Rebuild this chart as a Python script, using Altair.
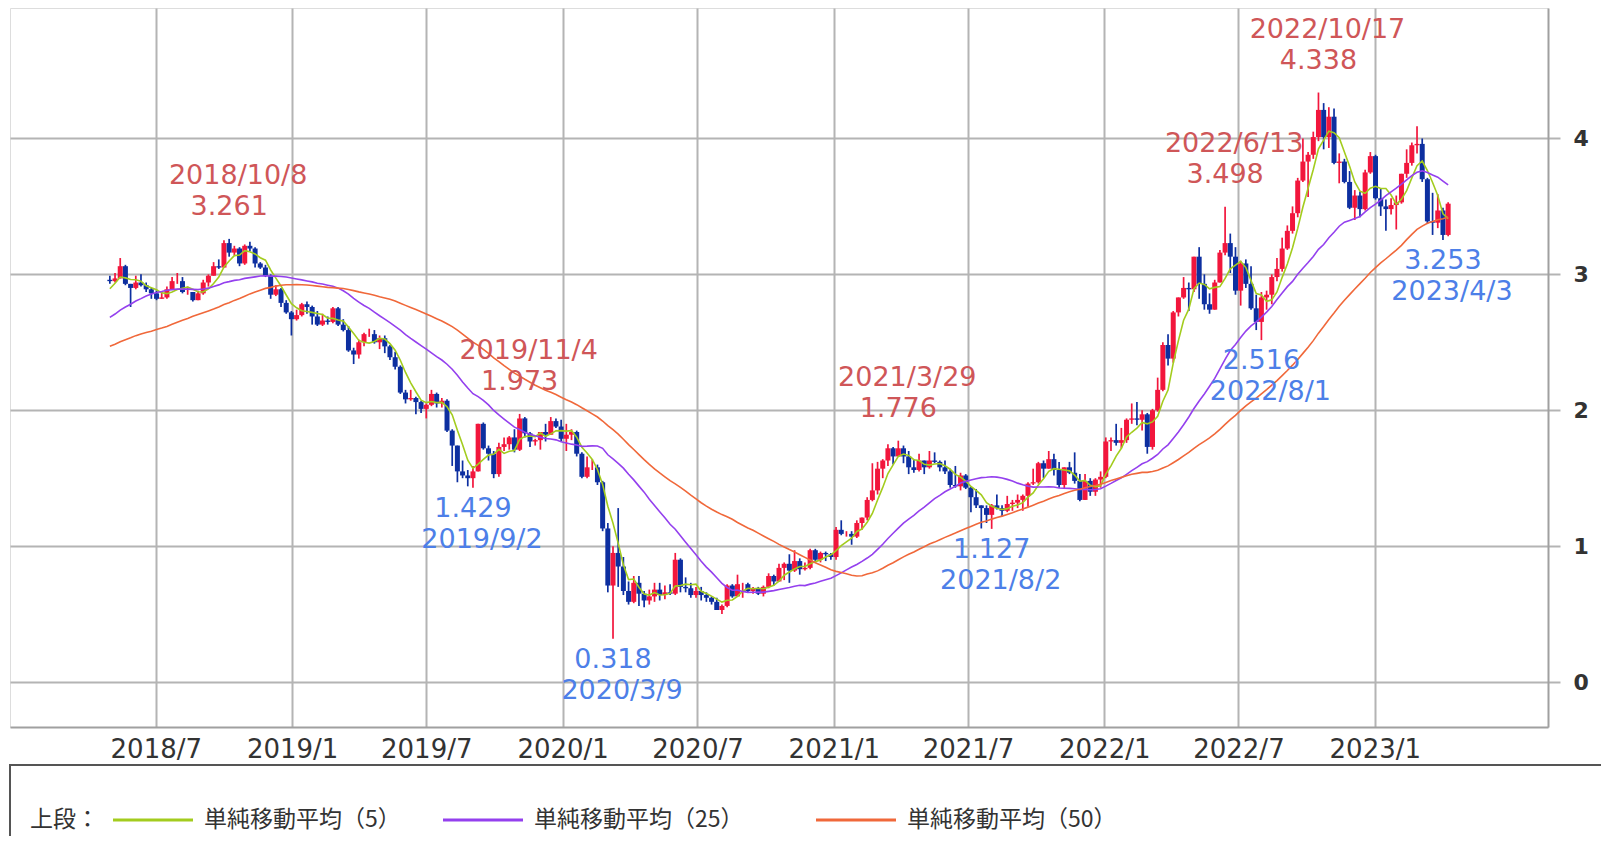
import altair as alt
import pandas as pd

# ---------------- data (weekly candles, week starting Monday) ----------------
start_week = "2018-04-30"
first_open = 2.96

# weekly closes before the visible range (only used for the moving averages)
prior_close = [
    2.25, 2.16, 2.20, 2.15, 2.14, 2.30, 2.39, 2.33, 2.24, 2.29,
    2.26, 2.19, 2.19, 2.17, 2.16, 2.05, 2.20, 2.25, 2.33, 2.36,
    2.28, 2.38, 2.46, 2.34, 2.40, 2.35, 2.34, 2.37, 2.38, 2.35,
    2.48, 2.41, 2.48, 2.55, 2.64, 2.66, 2.84, 2.85, 2.87, 2.87,
    2.86, 2.90, 2.85, 2.82, 2.74, 2.77, 2.83, 2.96, 2.96,
]

close = [
    # 2018
    2.95, 2.97, 3.06, 2.93, 2.90, 2.94, 2.92, 2.89, 2.86, 2.82,
    2.83, 2.89, 2.95, 2.95, 2.87, 2.87, 2.81, 2.86, 2.94, 2.99,
    3.06, 3.05, 3.23, 3.16, 3.19, 3.08, 3.21, 3.19, 3.08, 3.05,
    2.99, 2.85, 2.89, 2.79, 2.72, 2.67,
    # 2019
    2.70, 2.78, 2.76, 2.69, 2.63, 2.66, 2.65, 2.75, 2.63, 2.59,
    2.44, 2.41, 2.50, 2.56, 2.56, 2.50, 2.53, 2.47, 2.39, 2.32,
    2.13, 2.08, 2.09, 2.06, 2.01, 2.04, 2.12, 2.05, 2.07, 1.85,
    1.74, 1.55, 1.52, 1.50, 1.55, 1.90, 1.72, 1.68, 1.53, 1.73,
    1.75, 1.80, 1.71, 1.94, 1.83, 1.77, 1.78, 1.84, 1.82, 1.92,
    1.88, 1.79,
    # 2020
    1.82, 1.84, 1.68, 1.51, 1.58, 1.58, 1.47, 1.13, 0.71, 0.95,
    0.85, 0.67, 0.59, 0.73, 0.65, 0.60, 0.63, 0.68, 0.64, 0.66,
    0.65, 0.90, 0.70, 0.69, 0.64, 0.67, 0.64, 0.62, 0.59, 0.53,
    0.56, 0.71, 0.63, 0.72, 0.72, 0.67, 0.69, 0.65, 0.70, 0.78,
    0.74, 0.84, 0.87, 0.82, 0.89, 0.83, 0.84, 0.97, 0.90, 0.95,
    0.94, 0.92,
    # 2021
    1.12, 1.09, 1.09, 1.07, 1.17, 1.21, 1.34, 1.41, 1.57, 1.63,
    1.72, 1.66, 1.72, 1.66, 1.58, 1.56, 1.63, 1.58, 1.63, 1.62,
    1.58, 1.55, 1.45, 1.44, 1.52, 1.43, 1.36, 1.30, 1.28, 1.23,
    1.30, 1.28, 1.26, 1.31, 1.32, 1.34, 1.37, 1.46, 1.47, 1.61,
    1.57, 1.64, 1.56, 1.45, 1.58, 1.54, 1.48, 1.34, 1.48, 1.40,
    1.49, 1.51,
    # 2022
    1.77, 1.78, 1.76, 1.78, 1.93, 1.94, 1.93, 1.97, 1.73, 2.00,
    2.15, 2.48, 2.38, 2.72, 2.83, 2.90, 2.89, 3.13, 2.93, 2.78,
    2.74, 2.94, 3.16, 3.23, 3.13, 2.88, 3.08, 2.93, 2.75, 2.65,
    2.83, 2.85, 2.98, 3.04, 3.19, 3.32, 3.45, 3.69, 3.83, 3.88,
    4.01, 4.21, 4.01, 4.16, 3.82, 3.83, 3.68, 3.49, 3.58, 3.48,
    3.75, 3.87,
    # 2023
    3.56, 3.50, 3.48, 3.51, 3.53, 3.74, 3.82, 3.95, 3.96, 3.70,
    3.39, 3.38, 3.47, 3.29, 3.52,
]

high = [
    # 2018
    2.99, 3.01, 3.12, 3.07, 2.93, 2.99, 3.00, 2.94, 2.90, 2.88,
    2.87, 2.91, 2.98, 3.01, 2.98, 2.91, 2.87, 2.88, 2.96, 3.00,
    3.09, 3.11, 3.25, 3.261, 3.21, 3.20, 3.22, 3.24, 3.20, 3.09,
    3.07, 3.00, 2.92, 2.90, 2.81, 2.73,
    # 2019
    2.74, 2.79, 2.80, 2.77, 2.73, 2.71, 2.69, 2.76, 2.76, 2.67,
    2.62, 2.46, 2.52, 2.57, 2.60, 2.59, 2.55, 2.55, 2.48, 2.43,
    2.33, 2.15, 2.15, 2.10, 2.07, 2.05, 2.15, 2.13, 2.09, 2.08,
    1.86, 1.74, 1.63, 1.56, 1.59, 1.90, 1.91, 1.74, 1.70, 1.76,
    1.80, 1.81, 1.86, 1.973, 1.95, 1.84, 1.79, 1.84, 1.90, 1.95,
    1.94, 1.93,
    # 2020
    1.90, 1.86, 1.85, 1.69, 1.66, 1.64, 1.60, 1.48, 1.17, 1.00,
    1.28, 0.92, 0.74, 0.78, 0.78, 0.67, 0.68, 0.73, 0.73, 0.71,
    0.72, 0.95, 0.91, 0.77, 0.73, 0.70, 0.70, 0.66, 0.63, 0.62,
    0.57, 0.72, 0.72, 0.79, 0.73, 0.73, 0.70, 0.70, 0.71, 0.80,
    0.79, 0.87, 0.88, 0.94, 0.97, 0.91, 0.88, 0.98, 0.98, 0.96,
    0.96, 0.95,
    # 2021
    1.14, 1.19, 1.11, 1.11, 1.19, 1.21, 1.36, 1.61, 1.62, 1.64,
    1.75, 1.73, 1.776, 1.74, 1.70, 1.64, 1.68, 1.63, 1.70, 1.69,
    1.63, 1.63, 1.57, 1.59, 1.54, 1.53, 1.44, 1.42, 1.30, 1.30,
    1.31, 1.38, 1.30, 1.37, 1.34, 1.38, 1.38, 1.47, 1.57, 1.62,
    1.63, 1.70, 1.68, 1.62, 1.58, 1.62, 1.69, 1.53, 1.53, 1.50,
    1.50, 1.55,
    # 2022
    1.80, 1.80, 1.90, 1.87, 1.94, 2.05, 2.06, 2.00, 1.98, 2.01,
    2.24, 2.50, 2.56, 2.73, 2.83, 2.98, 2.94, 3.13, 3.20, 3.00,
    2.86, 2.96, 3.18, 3.498, 3.30, 3.20, 3.10, 3.11, 3.06, 2.85,
    2.87, 2.88, 3.00, 3.12, 3.27, 3.36, 3.50, 3.71, 4.00, 3.90,
    4.05, 4.338, 4.26, 4.23, 4.22, 3.89, 3.85, 3.76, 3.62, 3.61,
    3.77, 3.90,
    # 2023
    3.88, 3.63, 3.55, 3.56, 3.58, 3.74, 3.92, 3.97, 4.09, 4.00,
    3.71, 3.60, 3.59, 3.49, 3.53,
]

low = [
    # 2018
    2.93, 2.94, 2.97, 2.92, 2.76, 2.89, 2.91, 2.87, 2.82, 2.81,
    2.82, 2.82, 2.89, 2.93, 2.86, 2.85, 2.80, 2.81, 2.85, 2.91,
    2.99, 3.04, 3.05, 3.13, 3.14, 3.06, 3.07, 3.17, 3.05, 3.04,
    2.98, 2.82, 2.84, 2.76, 2.71, 2.55,
    # 2019
    2.66, 2.69, 2.71, 2.63, 2.62, 2.62, 2.63, 2.64, 2.62, 2.58,
    2.43, 2.34, 2.38, 2.47, 2.54, 2.49, 2.45, 2.42, 2.37, 2.30,
    2.12, 2.05, 2.07, 1.97, 1.98, 1.94, 2.03, 2.02, 2.02, 1.84,
    1.59, 1.47, 1.50, 1.44, 1.429, 1.55, 1.71, 1.63, 1.50, 1.51,
    1.70, 1.71, 1.69, 1.70, 1.80, 1.73, 1.74, 1.71, 1.77, 1.82,
    1.87, 1.77,
    # 2020
    1.70, 1.78, 1.66, 1.50, 1.50, 1.56, 1.45, 1.11, 0.66, 0.318,
    0.70, 0.64, 0.57, 0.58, 0.56, 0.55, 0.57, 0.59, 0.60, 0.61,
    0.64, 0.64, 0.66, 0.66, 0.62, 0.62, 0.60, 0.59, 0.57, 0.53,
    0.50, 0.55, 0.62, 0.63, 0.62, 0.66, 0.65, 0.64, 0.63, 0.69,
    0.71, 0.74, 0.75, 0.73, 0.81, 0.79, 0.82, 0.83, 0.88, 0.88,
    0.89, 0.90,
    # 2021
    0.90, 1.08, 1.07, 1.01, 1.06, 1.12, 1.19, 1.33, 1.38, 1.50,
    1.59, 1.60, 1.66, 1.61, 1.53, 1.54, 1.55, 1.53, 1.57, 1.61,
    1.55, 1.53, 1.43, 1.43, 1.41, 1.42, 1.25, 1.28, 1.13, 1.17,
    1.127, 1.27, 1.22, 1.25, 1.26, 1.28, 1.26, 1.29, 1.45, 1.46,
    1.50, 1.57, 1.52, 1.43, 1.42, 1.53, 1.46, 1.33, 1.34, 1.37,
    1.37, 1.43,
    # 2022
    1.50, 1.70, 1.74, 1.72, 1.76, 1.90, 1.89, 1.85, 1.68, 1.71,
    1.99, 2.14, 2.33, 2.35, 2.69, 2.82, 2.73, 2.87, 2.82, 2.74,
    2.71, 2.74, 2.94, 3.14, 3.01, 2.85, 2.77, 2.90, 2.74, 2.59,
    2.516, 2.74, 2.78, 2.95, 3.02, 3.18, 3.30, 3.42, 3.68, 3.57,
    3.85, 3.98, 3.92, 3.93, 3.81, 3.67, 3.67, 3.48, 3.40, 3.42,
    3.47, 3.74,
    # 2023
    3.55, 3.43, 3.32, 3.44, 3.33, 3.52, 3.71, 3.80, 3.89, 3.68,
    3.37, 3.29, 3.34, 3.253, 3.28,
]

# labelled extremes
ann_high_dates = ["2018-10-08", "2019-11-04", "2021-03-29", "2022-06-13", "2022-10-17"]
ann_high_values = [3.261, 1.973, 1.776, 3.498, 4.338]
ann_high_labels = ["2018/10/8", "2019/11/4", "2021/3/29", "2022/6/13", "2022/10/17"]
ann_low_dates = ["2019-09-02", "2020-03-09", "2021-08-02", "2022-08-01", "2023-04-03"]
ann_low_values = [1.429, 0.318, 1.127, 2.516, 3.253]
ann_low_labels = ["2019/9/2", "2020/3/9", "2021/8/2", "2022/8/1", "2023/4/3"]

ma_windows = [5, 25, 50]
ma_names = ["単純移動平均（5）", "単純移動平均（25）", "単純移動平均（50）"]
ma_colors = ["#a3cc1e", "#9440ee", "#f0683a"]
legend_title = "上段："

x_tick_dates = ["2018-07-01", "2019-01-01", "2019-07-01", "2020-01-01", "2020-07-01",
                "2021-01-01", "2021-07-01", "2022-01-01", "2022-07-01", "2023-01-01"]
x_domain_dates = ["2017-12-23", "2023-08-16"]
y_ticks = [0, 1, 2, 3, 4]
y_domain = [-0.331, 4.96]

UP = "#f2163c"
DOWN = "#0d2fa0"
HI_TXT = "#cf5658"
LO_TXT = "#4d7fe8"
GRID = "#b4b4b4"
FRAME = "#a0a0a0"

# ---------------- tables ----------------
dates = pd.date_range(start_week, periods=len(close), freq="7D")
opens = [first_open] + close[:-1]
df = pd.DataFrame({"date": dates, "open": opens, "high": high, "low": low, "close": close})

all_close = pd.Series(prior_close + close)
ma_frames = []
for w, name in zip(ma_windows, ma_names):
    ma = all_close.rolling(w).mean().iloc[len(prior_close):].to_numpy()
    ma_frames.append(pd.DataFrame({"date": dates, "value": ma, "series": name}))
ma_df = pd.concat(ma_frames, ignore_index=True)

hi_df = pd.DataFrame({"date": pd.to_datetime(ann_high_dates), "value": ann_high_values,
                      "vtxt": [f"{v:.3f}" for v in ann_high_values], "dtxt": ann_high_labels})
lo_df = pd.DataFrame({"date": pd.to_datetime(ann_low_dates), "value": ann_low_values,
                      "vtxt": [f"{v:.3f}" for v in ann_low_values], "dtxt": ann_low_labels})


def dt(s):
    t = pd.Timestamp(s)
    return alt.DateTime(year=t.year, month=t.month, date=t.day)


x_scale = alt.Scale(domain=[dt(d) for d in x_domain_dates])
y_scale = alt.Scale(domain=y_domain, nice=False, zero=False)

x_axis = alt.Axis(values=[dt(d) for d in x_tick_dates], format="%Y/%-m", title=None,
                  labelFontSize=26, labelColor="#333333", labelFont="DejaVu Sans",
                  tickSize=0, labelPadding=9, domainColor=FRAME, domainWidth=2,
                  gridColor=GRID, gridWidth=2, labelFlush=False, labelOverlap=False)
y_axis = alt.Axis(orient="right", values=y_ticks, format="d", title=None,
                  labelFontSize=22, labelFontWeight="bold", labelColor="#333333",
                  labelFont="DejaVu Sans", tickSize=12, tickColor=GRID, tickWidth=2,
                  labelPadding=13, domainColor=FRAME, domainWidth=2,
                  gridColor=GRID, gridWidth=2)


def X():
    return alt.X("date:T", scale=x_scale, axis=x_axis)


def Y(field):
    return alt.Y(field, type="quantitative", scale=y_scale, axis=y_axis)


candle_color = alt.condition("datum.close >= datum.open", alt.value(UP), alt.value(DOWN))
wicks = alt.Chart(df).mark_rule(strokeWidth=1.7).encode(
    x=X(), y=Y("low"), y2="high:Q", color=candle_color)
bodies = alt.Chart(df).mark_bar(size=5).encode(
    x=X(), y=Y("open"), y2="close:Q", color=candle_color)

lines = alt.Chart(ma_df).mark_line(strokeWidth=1.6).encode(
    x=X(), y=Y("value"),
    color=alt.Color("series:N", scale=alt.Scale(domain=ma_names, range=ma_colors), legend=None))

FONT = "DejaVu Sans"
FS = 27
hi_val = alt.Chart(hi_df).mark_text(dy=-32, fontSize=FS, font=FONT, color=HI_TXT).encode(
    x=X(), y=Y("value"), text="vtxt:N")
hi_date = alt.Chart(hi_df).mark_text(dy=-63, dx=9, fontSize=FS, font=FONT, color=HI_TXT).encode(
    x=X(), y=Y("value"), text="dtxt:N")
lo_val = alt.Chart(lo_df).mark_text(dy=21, fontSize=FS, font=FONT, color=LO_TXT).encode(
    x=X(), y=Y("value"), text="vtxt:N")
lo_date = alt.Chart(lo_df).mark_text(dy=52, dx=9, fontSize=FS, font=FONT, color=LO_TXT).encode(
    x=X(), y=Y("value"), text="dtxt:N")

# ---------------- legend box below the plot ----------------
one = pd.DataFrame({"k": [0]})
LEG_Y = 812
box = alt.Chart(one).mark_rect(fillOpacity=0, stroke="#555555", strokeWidth=2).encode(
    x=alt.value(0), x2=alt.value(1700), y=alt.value(757), y2=alt.value(900))
leg_title = alt.Chart(one).mark_text(align="left", baseline="middle", fontSize=23,
                                     font="Noto Sans CJK JP", color="#333333").encode(
    x=alt.value(20), y=alt.value(LEG_Y), text=alt.value(legend_title))
legend_layers = [box, leg_title]
leg_line_x = [103, 433, 806]
for i, name in enumerate(ma_names):
    x0 = leg_line_x[i]
    legend_layers.append(alt.Chart(one).mark_rule(strokeWidth=3, color=ma_colors[i]).encode(
        x=alt.value(x0), x2=alt.value(x0 + 80), y=alt.value(LEG_Y)))
    legend_layers.append(alt.Chart(one).mark_text(align="left", baseline="middle", fontSize=23,
                                                  font="Noto Sans CJK JP", color="#333333").encode(
        x=alt.value(x0 + 91), y=alt.value(LEG_Y), text=alt.value(name)))

chart = alt.layer(wicks, bodies, lines, hi_val, hi_date, lo_val, lo_date, *legend_layers).properties(
    width=1538, height=719,
    autosize=alt.AutoSizeParams(type="none"),
    padding={"left": 2, "top": 0, "right": 53, "bottom": 109},
).configure_view(stroke=FRAME, strokeWidth=2).configure(background="white")

chart.save("out.html", embed_options={"renderer": "svg", "actions": False})
